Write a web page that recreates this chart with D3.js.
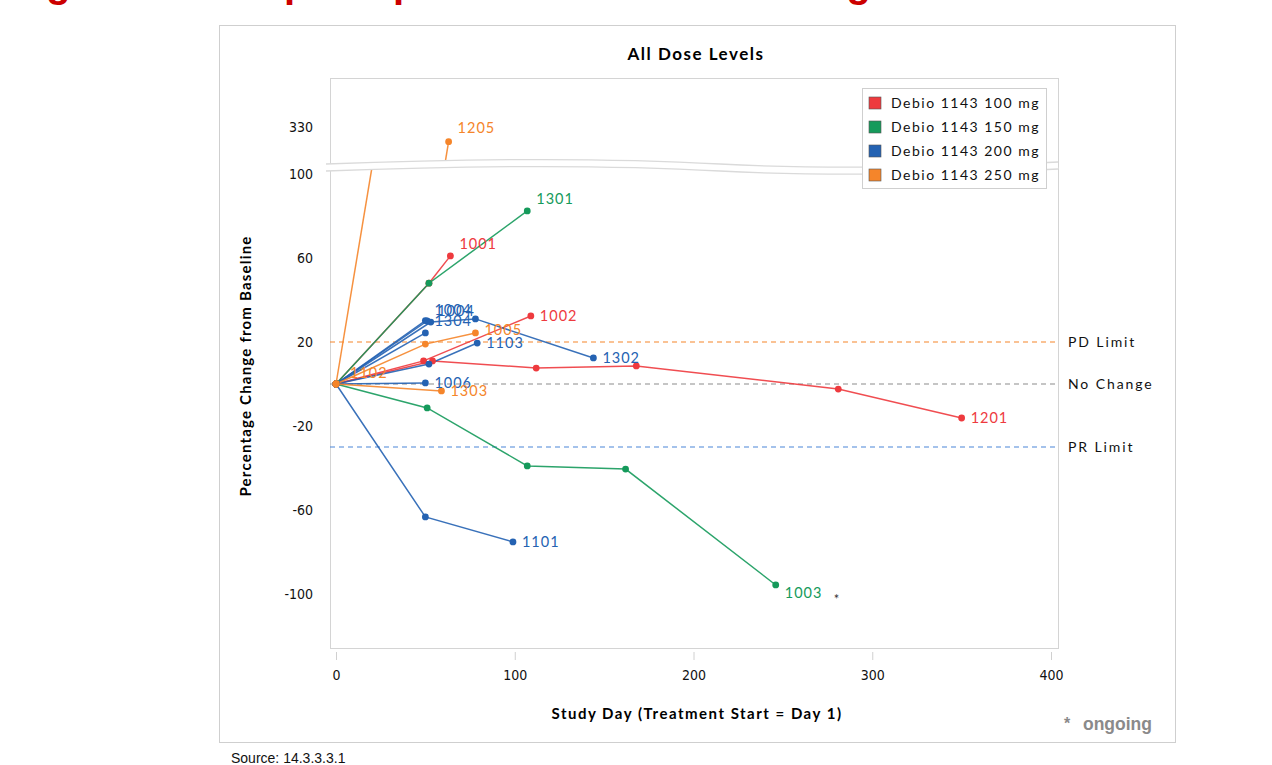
<!DOCTYPE html>
<html>
<head>
<meta charset="utf-8">
<script src="https://cdn.jsdelivr.net/npm/d3@7"></script>
<style>
  body { margin: 0; background: #fff; }
  svg { display: block; }
</style>
</head>
<body>
<script>
// dose groups
const doses = ["Debio 1143 100 mg", "Debio 1143 150 mg", "Debio 1143 200 mg", "Debio 1143 250 mg"];
const doseColors = ["#ee3a3e", "#159a5b", "#2462b2", "#f5852a"];

// subjects: id, dose index, visits as [day, % change]
const subjId   = ["1001", "1002", "1201", "1301", "1003", "1004", "1004", "1304", "1302", "1103", "1006", "1101", "1205", "1005", "1303", "1102"];
const subjDose = [0, 0, 0, 1, 1, 2, 2, 2, 2, 2, 2, 2, 3, 3, 3, 3];
const subjDays = [
  [0, 52, 64],
  [0, 49, 109],
  [0, 54, 112, 168, 281, 350],
  [0, 52, 107],
  [0, 51, 107, 162, 246],
  [0, 50],
  [0, 51],
  [0, 50],
  [0, 53, 78, 144],
  [0, 52, 79],
  [0, 50],
  [0, 50, 99],
  [0, 63],
  [0, 50, 78],
  [0, 59],
  [0]
];
const subjPct = [
  [0, 48, 61],
  [0, 11, 32.4],
  [0, 11, 7.6, 8.6, -2.4, -16.2],
  [0, 48, 82.4],
  [0, -11.4, -39, -40.5, -95.7],
  [0, 30.2],
  [0, 30],
  [0, 24.3],
  [0, 29.5, 31, 12.4],
  [0, 9.5, 19.5],
  [0, 0.5],
  [0, -63.3, -75.2],
  [0, 323],
  [0, 19, 24.3],
  [0, -3.3],
  [0]
];
const ongoing = ["1003"];

// reference lines
const refNames  = ["PD Limit", "No Change", "PR Limit"];
const refValues = [20, 0, -30];
const refColors = ["#f5852a", "#8c8c8c", "#4a86d8"];

const xTicks = [0, 100, 200, 300, 400];
const yTicksLow = [-100, -60, -20, 20, 60, 100];
const yTicksHigh = [330];

// label nudges (by subject order) to mimic the collision handling of the original
const labelNudge = { 5: [0, -11], 6: [1, -10], 7: [0, -12], 13: [0, -3], 15: [5, -11], 12: [0, -14], 3: [0, -12], 0: [0, -12], 4: [0, 8] };

const W = 1272, H = 765;
const plot = { left: 330, right: 1058, top: 78, bottom: 648, breakTop: 163, breakBottom: 170 };
const condensed = "'Liberation Sans Narrow', 'DejaVu Sans Condensed', sans-serif";
const calib = "Lato, sans-serif";

const svg = d3.select("body").append("svg").attr("width", W).attr("height", H);

// cut-off slide title (only the descenders show)
svg.append("text")
  .attr("x", -13).attr("y", -3)
  .attr("fill", "#cc0000")
  .attr("font-family", "'Liberation Sans', Arial, sans-serif")
  .attr("font-weight", "bold")
  .attr("font-size", 40)
  .text("Target Lesion Spider plot: Best Percent Change");

// outer frame
svg.append("rect").attr("x", 219.5).attr("y", 25.5).attr("width", 956).attr("height", 717)
  .attr("fill", "#fff").attr("stroke", "#cfcfcf");

const x = d3.scaleLinear().domain([0, 400]).range([336, 1051]);
const yLow = d3.scaleLinear().domain([0, 100]).range([384, 174]);
const yHigh = d3.scaleLinear().domain([330, 331]).range([127, 124.9]);

svg.append("text").attr("x", 696).attr("y", 60).attr("text-anchor", "middle")
  .attr("font-family", calib).attr("font-weight", "bold").attr("font-size", 17).attr("letter-spacing", 1.5)
  .text("All Dose Levels");

// clip regions for the two y segments
const defs = svg.append("defs");
defs.append("clipPath").attr("id", "clipLow").append("rect")
  .attr("x", plot.left).attr("y", plot.breakBottom - 2).attr("width", plot.right - plot.left).attr("height", plot.bottom - plot.breakBottom + 2);
defs.append("clipPath").attr("id", "clipHigh").append("rect")
  .attr("x", plot.left).attr("y", plot.top).attr("width", plot.right - plot.left).attr("height", plot.breakTop - plot.top);

// plot frame
svg.append("rect").attr("x", plot.left + 0.5).attr("y", plot.top + 0.5)
  .attr("width", plot.right - plot.left).attr("height", plot.bottom - plot.top)
  .attr("fill", "none").attr("stroke", "#d4d4d4");

// x axis
const xAxis = svg.append("g").attr("transform", `translate(0,${plot.bottom + 4})`)
  .call(d3.axisBottom(x).tickValues(xTicks).tickSize(8).tickSizeOuter(0));
xAxis.select(".domain").remove();
xAxis.selectAll(".tick line").attr("stroke", "#d0d0d0");
xAxis.selectAll(".tick text").attr("dy", "1.2em").attr("font-family", condensed).attr("font-size", 14).attr("fill", "#111");

// y axes (labels only)
function yAxisPart(scale, ticks) {
  const g = svg.append("g").attr("transform", `translate(${plot.left},0)`)
    .call(d3.axisLeft(scale).tickValues(ticks).tickFormat(d => String(d)).tickSize(0).tickPadding(17));
  g.select(".domain").remove();
  g.selectAll(".tick text").attr("font-family", condensed).attr("font-size", 14).attr("fill", "#111");
}
yAxisPart(yLow, yTicksLow);
yAxisPart(yHigh, yTicksHigh);

svg.append("text").attr("transform", `translate(251,366) rotate(-90)`).attr("text-anchor", "middle")
  .attr("font-family", calib).attr("font-weight", "bold").attr("font-size", 15).attr("letter-spacing", 1.2)
  .text("Percentage Change from Baseline");
svg.append("text").attr("x", 697).attr("y", 719).attr("text-anchor", "middle")
  .attr("font-family", calib).attr("font-weight", "bold").attr("font-size", 15).attr("letter-spacing", 1.5)
  .text("Study Day (Treatment Start = Day 1)");

// reference lines
refValues.forEach((v, i) => {
  svg.append("line").attr("x1", plot.left).attr("x2", plot.right)
    .attr("y1", yLow(v)).attr("y2", yLow(v))
    .attr("stroke", refColors[i]).attr("stroke-width", 1.2).attr("stroke-dasharray", "5,4");
  svg.append("text").attr("x", plot.right + 10).attr("y", yLow(v) + 5)
    .attr("font-family", calib).attr("font-size", 14).attr("letter-spacing", 1.9).attr("fill", "#111")
    .text(refNames[i]);
});

// subject lines, drawn in both segments
const subjects = subjId.map((id, i) => ({
  id, idx: i, dose: subjDose[i],
  pts: subjDays[i].map((d, j) => ({ day: d, pct: subjPct[i][j] }))
}));

[[yLow, "clipLow"], [yHigh, "clipHigh"]].forEach(([ys, clip]) => {
  const g = svg.append("g").attr("clip-path", `url(#${clip})`);
  const line = d3.line().x(p => x(p.day)).y(p => ys(p.pct));
  g.selectAll("path").data(subjects).join("path")
    .attr("d", s => line(s.pts)).attr("fill", "none")
    .attr("stroke", s => doseColors[s.dose]).attr("stroke-width", 1.5).attr("stroke-opacity", 0.9);
  subjects.forEach(s => {
    g.selectAll(null).data(s.pts).join("circle")
      .attr("cx", p => x(p.day)).attr("cy", p => ys(p.pct)).attr("r", 3.4)
      .attr("fill", doseColors[s.dose]);
  });
});

// axis break
const breakPath = (y0) => `M${plot.left - 4},${y0 + 1} C${plot.left + 180},${y0 - 6} ${plot.left + 300},${y0 - 4} ${plot.left + 390},${y0 + 1} S${plot.right - 120},${y0 + 5} ${plot.right},${y0 - 1}`;
svg.append("path").attr("d", breakPath((plot.breakTop + plot.breakBottom) / 2))
  .attr("fill", "none").attr("stroke", "#fff").attr("stroke-width", plot.breakBottom - plot.breakTop);
svg.append("path").attr("d", breakPath(plot.breakTop)).attr("fill", "none").attr("stroke", "#dadada").attr("stroke-width", 1.3);
svg.append("path").attr("d", breakPath(plot.breakBottom)).attr("fill", "none").attr("stroke", "#dadada").attr("stroke-width", 1.3);

// subject labels at last visit
subjects.forEach(s => {
  const last = s.pts[s.pts.length - 1];
  const ys = last.pct > 200 ? yHigh : yLow;
  const nudge = labelNudge[s.idx] || [0, 0];
  const lx = x(last.day) + 9 + nudge[0], ly = ys(last.pct) + 5 + nudge[1];
  svg.append("text")
    .attr("x", lx).attr("y", ly)
    .attr("font-family", calib).attr("font-size", 14.5).attr("letter-spacing", 1).attr("fill", doseColors[s.dose])
    .text(s.id);
  if (ongoing.includes(s.id)) {
    svg.append("text").attr("x", lx + 49).attr("y", ly + 6)
      .attr("font-family", calib).attr("font-size", 13).attr("fill", "#333").text("*");
  }
});

// legend
const lg = svg.append("g").attr("transform", "translate(862,88)");
lg.append("rect").attr("x", 0.5).attr("y", 0.5).attr("width", 184).attr("height", 100)
  .attr("fill", "#fff").attr("stroke", "#cfcfcf");
doses.forEach((d, i) => {
  const row = lg.append("g").attr("transform", `translate(0,${15 + i * 24})`);
  row.append("rect").attr("x", 7).attr("y", -6).attr("width", 12).attr("height", 12)
    .attr("fill", doseColors[i]).attr("stroke", "#555").attr("stroke-width", 0.6);
  row.append("text").attr("x", 29).attr("y", 5)
    .attr("font-family", calib).attr("font-size", 14).attr("letter-spacing", 1.5).attr("fill", "#111")
    .text(d);
});

svg.append("text").attr("x", 1064).attr("y", 729)
  .attr("font-family", "'Liberation Sans', Arial, sans-serif").attr("font-weight", "bold").attr("font-size", 16).attr("fill", "#8a8a8a")
  .text("*");
svg.append("text").attr("x", 1152).attr("y", 730).attr("text-anchor", "end")
  .attr("font-family", "'Liberation Sans', Arial, sans-serif").attr("font-weight", "bold").attr("font-size", 17.5).attr("fill", "#8a8a8a")
  .text("ongoing");

svg.append("text").attr("x", 231).attr("y", 763)
  .attr("font-family", "'Liberation Sans', Arial, sans-serif").attr("font-size", 14).attr("fill", "#111")
  .text("Source: 14.3.3.3.1");
</script>
</body>
</html>
